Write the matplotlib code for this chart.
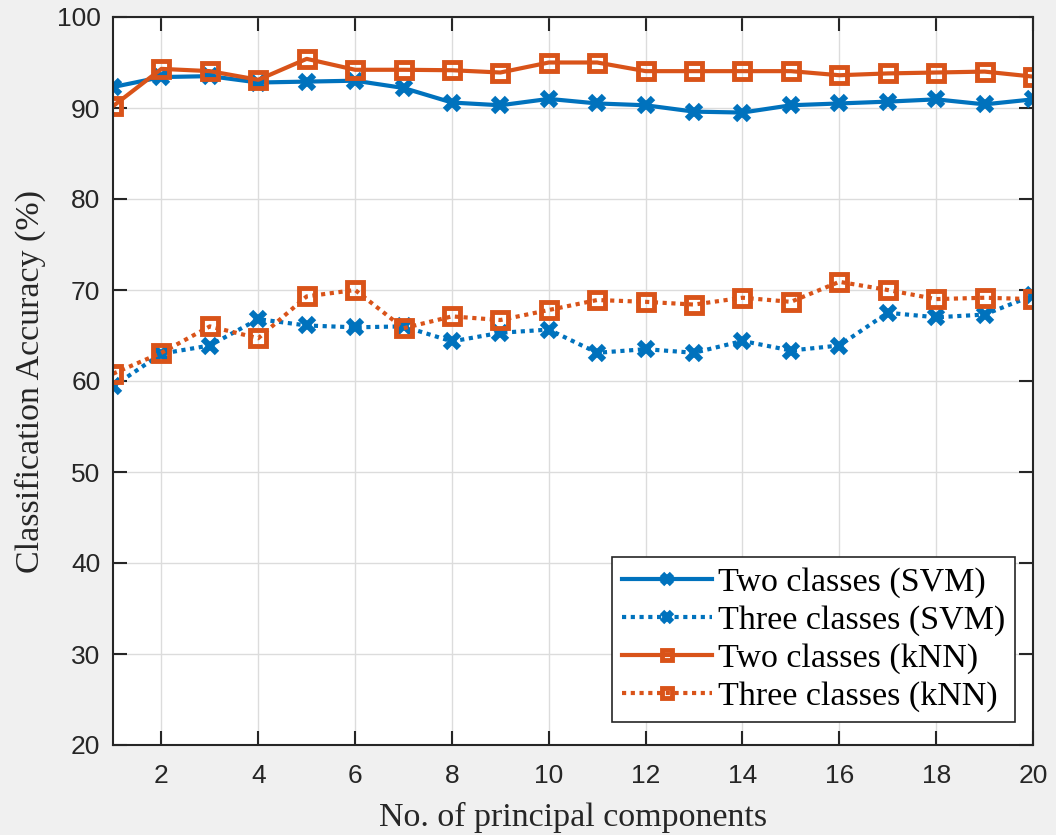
import numpy as np
import matplotlib.pyplot as plt

plt.rcParams['font.family'] = ['Liberation Serif', 'DejaVu Serif']

# accuracy vs. number of principal components
n_components = np.arange(1, 21)
svm_two = [92.3, 93.4, 93.5, 92.8, 92.9, 93.0, 92.2, 90.6, 90.3, 91.0,
           90.5, 90.3, 89.6, 89.5, 90.3, 90.5, 90.7, 90.95, 90.4, 90.95]
svm_three = [59.4, 63.0, 63.9, 66.8, 66.1, 65.9, 66.0, 64.35, 65.3, 65.65,
             63.1, 63.5, 63.1, 64.4, 63.35, 63.9, 67.5, 67.0, 67.3, 69.4]
knn_two = [90.2, 94.3, 94.05, 93.1, 95.4, 94.2, 94.2, 94.15, 93.9, 95.0,
           95.0, 94.05, 94.05, 94.05, 94.05, 93.6, 93.8, 93.9, 94.0, 93.45]
knn_three = [60.8, 63.1, 66.0, 64.7, 69.3, 70.0, 65.8, 67.1, 66.7, 67.8,
             68.9, 68.7, 68.4, 69.15, 68.7, 70.9, 70.0, 69.0, 69.15, 69.0]

series_labels = ['Two classes (SVM)', 'Three classes (SVM)',
                 'Two classes (kNN)', 'Three classes (kNN)']

blue = '#0072BD'
orange = '#D95319'
dark = '#262626'
dotted = (0, (1, 1.1))

fig = plt.figure(figsize=(10.56, 8.35), dpi=100, facecolor='#f0f0f0')
ax = fig.add_axes([113 / 1056, 1 - 745 / 835, 920 / 1056, 728 / 835])

ax.plot(n_components, svm_two, color=blue, lw=3, ls='-', marker='x',
        ms=10, mew=4.5, label=series_labels[0])
ax.plot(n_components, svm_three, color=blue, lw=3, ls=dotted, marker='x',
        ms=10, mew=4.5, dash_capstyle='butt', label=series_labels[1])
ax.plot(n_components, knn_two, color=orange, lw=3, ls='-', marker='s',
        ms=12, mew=3.5, mfc='none', label=series_labels[2])
ax.plot(n_components, knn_three, color=orange, lw=3, ls=dotted, marker='s',
        ms=12, mew=3.5, mfc='none', dash_capstyle='butt', label=series_labels[3])

ax.set_xlim(1, 20)
ax.set_ylim(20, 100)
ax.set_xticks(np.arange(2, 21, 2))
ax.set_yticks(np.arange(20, 101, 10))
ax.grid(True, color='#dcdcdc', lw=1)
ax.set_axisbelow(True)
ax.tick_params(direction='in', length=10, width=1.5, top=True, right=True,
               labelsize=19, colors=dark)
ax.tick_params(axis='x', pad=14)
ax.tick_params(axis='y', pad=9)
for lbl in ax.get_xticklabels() + ax.get_yticklabels():
    lbl.set_family(['Liberation Sans', 'DejaVu Sans'])
for sp in ax.spines.values():
    sp.set_linewidth(1.5)
    sp.set_color(dark)

ax.set_xlabel('No. of principal components', fontsize=24.5, color=dark, labelpad=10)
ax.set_ylabel('Classification Accuracy (%)', fontsize=24.5, color=dark, labelpad=8)

leg = ax.legend(loc='lower right', bbox_to_anchor=(1 - 18 / 920, 23 / 728),
                fontsize=24.5, frameon=True, fancybox=False, framealpha=1,
                edgecolor=dark, handlelength=2.65, handletextpad=0.15,
                borderpad=0.3, labelspacing=0.2, borderaxespad=0,
                markerscale=0.65)
leg.get_frame().set_linewidth(1.2)

fig.savefig('out.png', dpi=100, facecolor=fig.get_facecolor())
